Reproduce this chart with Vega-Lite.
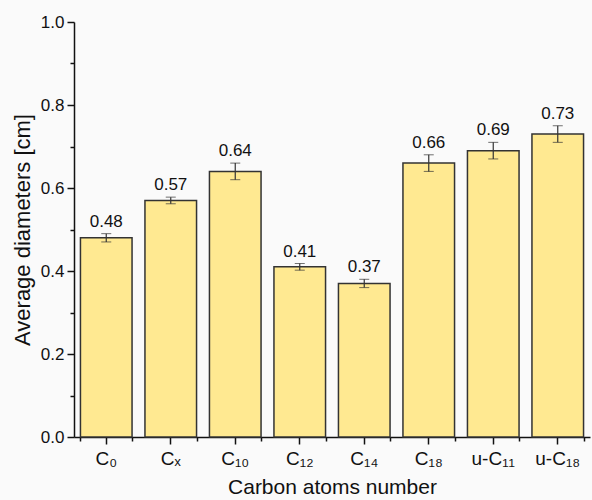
{
  "$schema": "https://vega.github.io/schema/vega-lite/v6.json",
  "autosize": "none",
  "width": 516,
  "height": 415,
  "padding": {"left": 74, "top": 22, "right": 2, "bottom": 63},
  "background": "#fafafa",
  "config": {
    "view": {"stroke": null},
    "font": "Liberation Sans",
    "axis": {"labelFont": "Liberation Sans", "titleFont": "Liberation Sans", "labelColor": "#111", "titleColor": "#111", "domainColor": "#111", "tickColor": "#111", "grid": false, "titleFontWeight": "normal"}
  },
  "data": {"values": [
    {"sample": "C₀", "mean": 0.48, "err": 0.01},
    {"sample": "Cₓ", "mean": 0.57, "err": 0.008},
    {"sample": "C₁₀", "mean": 0.64, "err": 0.02},
    {"sample": "C₁₂", "mean": 0.41, "err": 0.008},
    {"sample": "C₁₄", "mean": 0.37, "err": 0.01},
    {"sample": "C₁₈", "mean": 0.66, "err": 0.02},
    {"sample": "u-C₁₁", "mean": 0.69, "err": 0.02},
    {"sample": "u-C₁₈", "mean": 0.73, "err": 0.02}
  ]},
  "layer": [
    {
      "mark": {"type": "point", "opacity": 0},
      "encoding": {
        "x": {"field": "sample", "type": "nominal", "sort": null,
              "axis": {"title": null, "labels": false, "domain": false, "orient": "bottom", "tickBand": "extent", "tickSize": 4, "tickWidth": 1.5}},
        "y": {"field": "mean", "type": "quantitative",
              "axis": {"title": null, "labels": false, "domain": false, "orient": "left", "values": [0.1, 0.3, 0.5, 0.7, 0.9], "tickSize": 4, "tickWidth": 1.5}}
      }
    },
    {
      "mark": {"type": "bar", "fill": "#ffe991", "stroke": "#333", "strokeWidth": 1.5},
      "encoding": {
        "x": {"field": "sample", "type": "nominal", "sort": null,
              "scale": {"paddingInner": 0.2, "paddingOuter": 0.1},
              "axis": {"orient": "bottom", "title": "Carbon atoms number", "titleFontSize": 21, "labelFontSize": 19, "labelAngle": 0, "tickSize": 7, "tickWidth": 1.5, "domainWidth": 1.5, "labelPadding": 5, "titlePadding": 8}},
        "y": {"field": "mean", "type": "quantitative",
              "scale": {"domain": [0, 1], "nice": false},
              "axis": {"orient": "left", "title": "Average diameters [cm]", "titleFontSize": 22, "labelFontSize": 17, "values": [0, 0.2, 0.4, 0.6, 0.8, 1.0], "format": ".1f", "tickSize": 7, "tickWidth": 1.5, "domainWidth": 1.5, "labelPadding": 3, "titlePadding": 6}}
      }
    },
    {
      "mark": {"type": "errorbar", "ticks": {"size": 10, "color": "#333", "strokeWidth": 1.2}, "rule": {"color": "#333", "strokeWidth": 1.2}},
      "encoding": {
        "x": {"field": "sample", "type": "nominal", "sort": null, "axis": null},
        "y": {"field": "mean", "type": "quantitative", "axis": null},
        "yError": {"field": "err"}
      }
    },
    {
      "transform": [{"calculate": "datum.mean + datum.err", "as": "top"}],
      "mark": {"type": "text", "baseline": "bottom", "dy": -3, "fontSize": 17, "color": "#111"},
      "encoding": {
        "x": {"field": "sample", "type": "nominal", "sort": null, "axis": null},
        "y": {"field": "top", "type": "quantitative", "axis": null},
        "text": {"field": "mean", "type": "quantitative", "format": ".2f"}
      }
    }
  ],
  "resolve": {"axis": {"x": "independent", "y": "independent"}}
}
